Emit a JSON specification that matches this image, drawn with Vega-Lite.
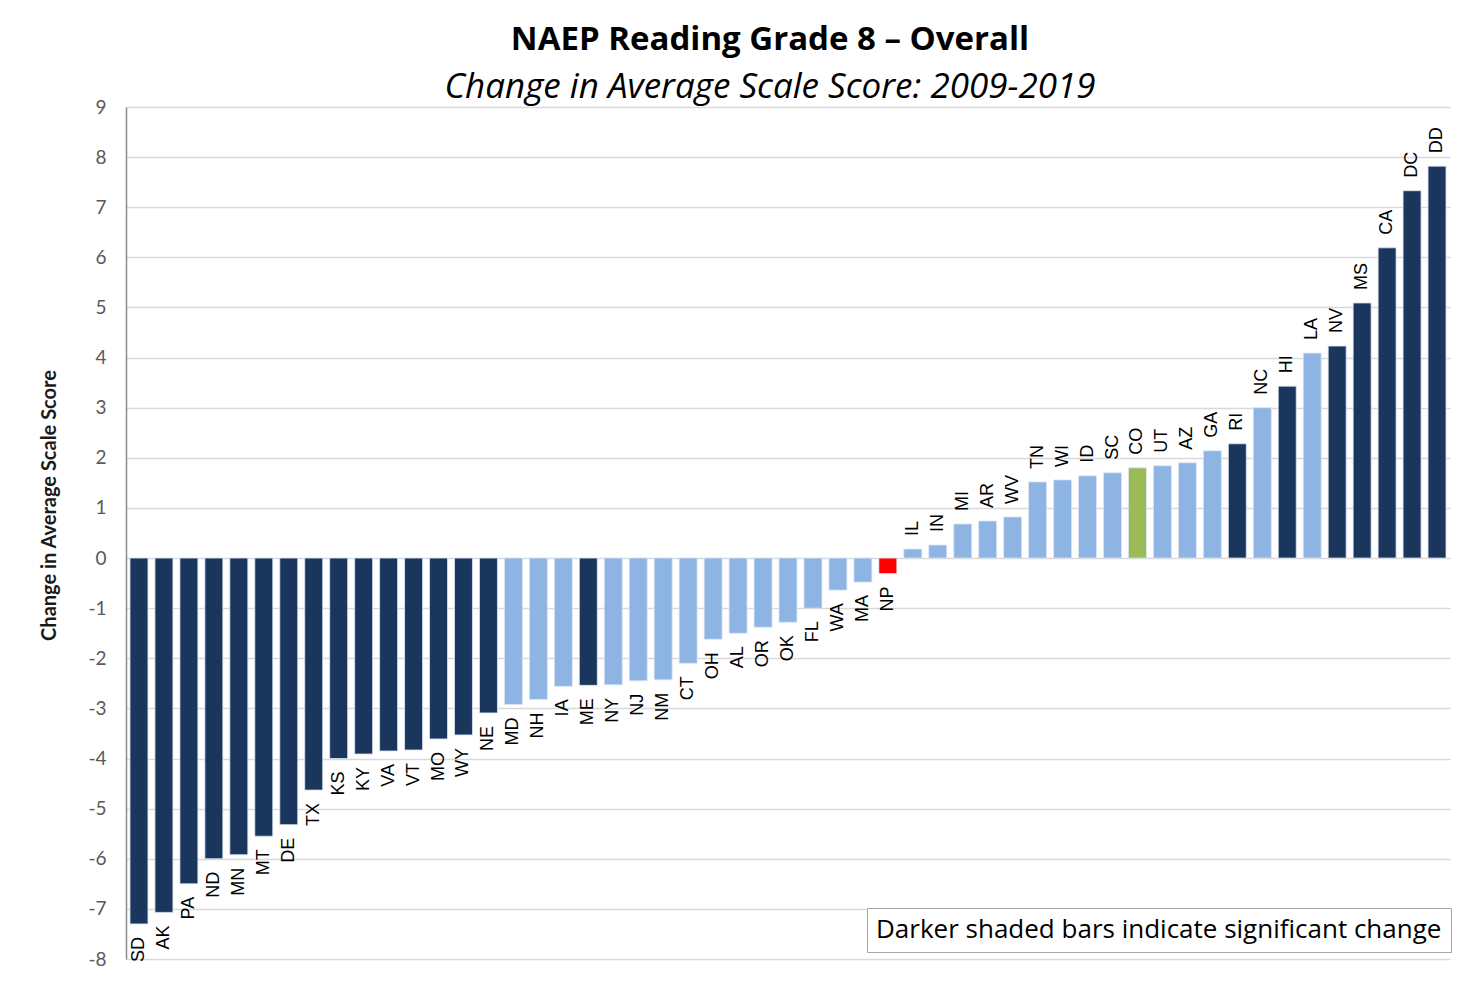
{
  "$schema": "https://vega.github.io/schema/vega-lite/v6.json",
  "width": 1324,
  "height": 852,
  "autosize": {"type": "none"},
  "padding": {"left": 126, "top": 107, "right": 23, "bottom": 33},
  "background": "white",
  "title": {
    "text": "NAEP Reading Grade 8 – Overall",
    "subtitle": "Change in Average Scale Score: 2009-2019",
    "anchor": "middle",
    "frame": "group",
    "dx": -18,
    "offset": -7,
    "font": "Open Sans",
    "fontSize": 33,
    "fontWeight": "bold",
    "color": "#000000",
    "subtitleFont": "Open Sans",
    "subtitleFontSize": 35,
    "subtitleFontStyle": "italic",
    "subtitleColor": "#000000",
    "subtitlePadding": 13
  },
  "config": {
    "view": {"stroke": null},
    "axis": {"labelFont": "Lato", "titleFont": "Lato"}
  },
  "data": {
    "values": [
      {"state": "SD", "value": -7.3, "cat": "sig"},
      {"state": "AK", "value": -7.07, "cat": "sig"},
      {"state": "PA", "value": -6.5, "cat": "sig"},
      {"state": "ND", "value": -6.0, "cat": "sig"},
      {"state": "MN", "value": -5.92, "cat": "sig"},
      {"state": "MT", "value": -5.55, "cat": "sig"},
      {"state": "DE", "value": -5.32, "cat": "sig"},
      {"state": "TX", "value": -4.63, "cat": "sig"},
      {"state": "KS", "value": -4.0, "cat": "sig"},
      {"state": "KY", "value": -3.91, "cat": "sig"},
      {"state": "VA", "value": -3.85, "cat": "sig"},
      {"state": "VT", "value": -3.83, "cat": "sig"},
      {"state": "MO", "value": -3.61, "cat": "sig"},
      {"state": "WY", "value": -3.53, "cat": "sig"},
      {"state": "NE", "value": -3.09, "cat": "sig"},
      {"state": "MD", "value": -2.92, "cat": "ns"},
      {"state": "NH", "value": -2.82, "cat": "ns"},
      {"state": "IA", "value": -2.56, "cat": "ns"},
      {"state": "ME", "value": -2.54, "cat": "sig"},
      {"state": "NY", "value": -2.53, "cat": "ns"},
      {"state": "NJ", "value": -2.45, "cat": "ns"},
      {"state": "NM", "value": -2.43, "cat": "ns"},
      {"state": "CT", "value": -2.1, "cat": "ns"},
      {"state": "OH", "value": -1.62, "cat": "ns"},
      {"state": "AL", "value": -1.5, "cat": "ns"},
      {"state": "OR", "value": -1.38, "cat": "ns"},
      {"state": "OK", "value": -1.28, "cat": "ns"},
      {"state": "FL", "value": -1.0, "cat": "ns"},
      {"state": "WA", "value": -0.64, "cat": "ns"},
      {"state": "MA", "value": -0.48, "cat": "ns"},
      {"state": "NP", "value": -0.31, "cat": "np"},
      {"state": "IL", "value": 0.18, "cat": "ns"},
      {"state": "IN", "value": 0.26, "cat": "ns"},
      {"state": "MI", "value": 0.68, "cat": "ns"},
      {"state": "AR", "value": 0.74, "cat": "ns"},
      {"state": "WV", "value": 0.82, "cat": "ns"},
      {"state": "TN", "value": 1.52, "cat": "ns"},
      {"state": "WI", "value": 1.56, "cat": "ns"},
      {"state": "ID", "value": 1.64, "cat": "ns"},
      {"state": "SC", "value": 1.7, "cat": "ns"},
      {"state": "CO", "value": 1.8, "cat": "co"},
      {"state": "UT", "value": 1.84, "cat": "ns"},
      {"state": "AZ", "value": 1.9, "cat": "ns"},
      {"state": "GA", "value": 2.14, "cat": "ns"},
      {"state": "RI", "value": 2.28, "cat": "sig"},
      {"state": "NC", "value": 3.0, "cat": "ns"},
      {"state": "HI", "value": 3.43, "cat": "sig"},
      {"state": "LA", "value": 4.09, "cat": "ns"},
      {"state": "NV", "value": 4.23, "cat": "sig"},
      {"state": "MS", "value": 5.09, "cat": "sig"},
      {"state": "CA", "value": 6.19, "cat": "sig"},
      {"state": "DC", "value": 7.33, "cat": "sig"},
      {"state": "DD", "value": 7.82, "cat": "sig"}
    ]
  },
  "encoding": {
    "x": {
      "field": "state",
      "type": "nominal",
      "sort": null,
      "axis": null,
      "scale": {"paddingInner": 0.28, "paddingOuter": 0.16}
    },
    "y": {
      "field": "value",
      "type": "quantitative",
      "scale": {"domain": [-8, 9], "nice": false, "zero": false},
      "axis": {
        "values": [-8, -7, -6, -5, -4, -3, -2, -1, 0, 1, 2, 3, 4, 5, 6, 7, 8, 9],
        "labelExpr": "replace(datum.label, '−', '-')",
        "title": "Change in Average Scale Score",
        "titleFontSize": 20,
        "titleFontWeight": "bold",
        "titleColor": "#1a1a1a",
        "titlePadding": 28,
        "titleY": 398,
        "labelFontSize": 19,
        "labelColor": "#595959",
        "labelPadding": 20,
        "ticks": false,
        "grid": true,
        "gridColor": "#d9d9d9",
        "gridWidth": 1.5,
        "domainColor": "#8c8c8c",
        "domainWidth": 1.5
      }
    }
  },
  "layer": [
    {
      "mark": {"type": "bar", "stroke": "#dce6f2", "strokeWidth": 0.8},
      "encoding": {
        "color": {
          "field": "cat",
          "type": "nominal",
          "scale": {
            "domain": ["sig", "ns", "co", "np"],
            "range": ["#1b365d", "#8eb4e3", "#9bbb59", "#ff0000"]
          },
          "legend": {
            "orient": "none",
            "legendX": 741,
            "legendY": 801,
            "values": ["sig"],
            "title": null,
            "labelExpr": "'Darker shaded bars indicate significant change'",
            "symbolSize": 0,
            "symbolOpacity": 0,
            "symbolStrokeWidth": 0,
            "labelOffset": -26,
            "labelFont": "Open Sans",
            "labelFontSize": 26,
            "labelColor": "#000000",
            "labelLimit": 0,
            "strokeColor": "#a6a6a6",
            "fillColor": "white",
            "padding": 9
          }
        }
      }
    },
    {
      "transform": [{"filter": "datum.value < 0"}],
      "mark": {
        "type": "text",
        "angle": 270,
        "align": "right",
        "baseline": "middle",
        "dx": -13,
        "font": "Liberation Sans",
        "fontSize": 18,
        "color": "#000000"
      },
      "encoding": {"text": {"field": "state"}}
    },
    {
      "transform": [{"filter": "datum.value >= 0"}],
      "mark": {
        "type": "text",
        "angle": 270,
        "align": "left",
        "baseline": "middle",
        "dx": 13,
        "font": "Liberation Sans",
        "fontSize": 18,
        "color": "#000000"
      },
      "encoding": {"text": {"field": "state"}}
    }
  ]
}
